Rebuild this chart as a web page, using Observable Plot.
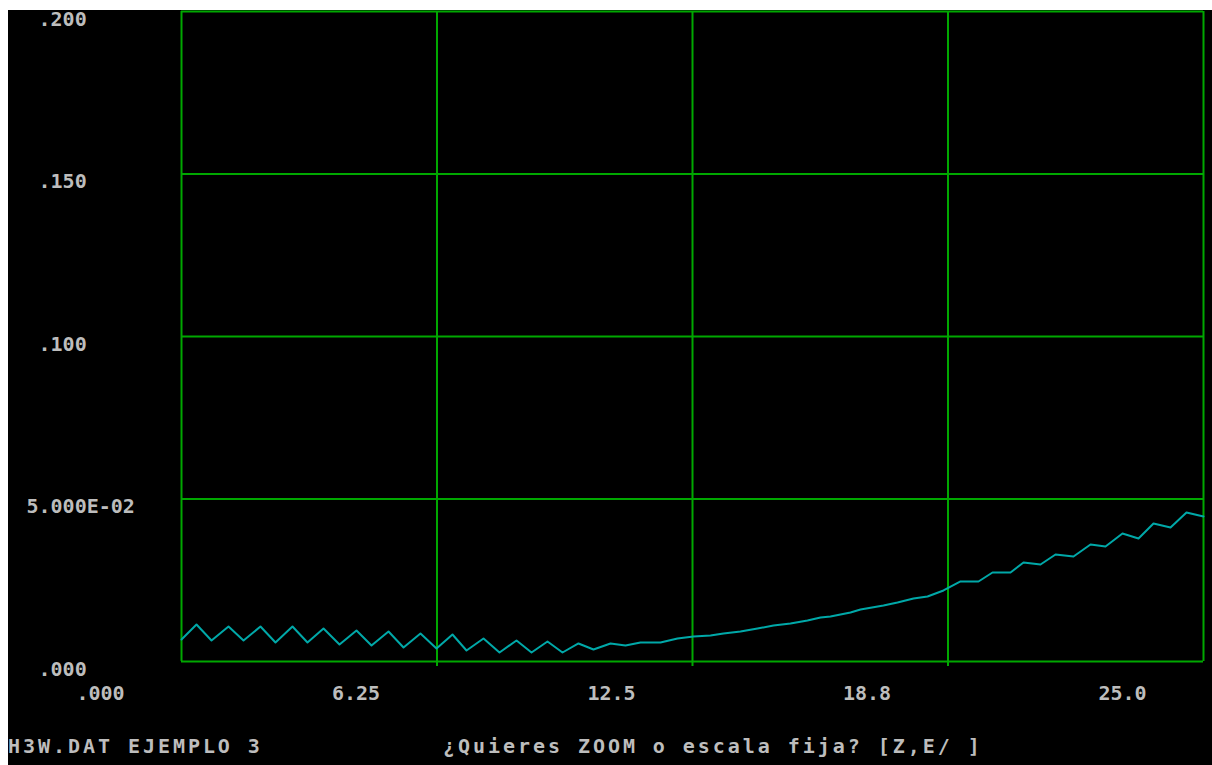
<!DOCTYPE html>
<html>
<head>
<meta charset="utf-8">
<script src="https://cdn.jsdelivr.net/npm/d3@7"></script>
<script src="https://cdn.jsdelivr.net/npm/@observablehq/plot@0.6"></script>
<style>
  html, body { margin: 0; padding: 0; background: #ffffff; overflow: hidden; }
  #screen { position: absolute; left: 8px; top: 10px; width: 1204px; height: 755px; background: #000; }
  #chart { position: absolute; left: 0; top: 0; }
  .dos { position: absolute; font-family: "DejaVu Sans Mono", monospace; font-weight: bold; font-size: 20px; letter-spacing: 2.95px; color: #bdbdbd; white-space: pre; line-height: 20px; }
</style>
</head>
<body>
<div id="screen">
  <div id="chart"></div>
  <div class="dos" style="left:0px; top:726px;">H3W.DAT EJEMPLO 3</div>
  <div class="dos" style="left:435px; top:726px;">¿Quieres ZOOM o escala fija? [Z,E/ ]</div>
</div>
<script>
const xTicks = [0, 6.25, 12.5, 18.75, 25];
const xTickLabels = [".000", "6.25", "12.5", "18.8", "25.0"];
const yTicks = [0, 0.05, 0.1, 0.15, 0.2];
const yTickLabels = ["\u00a0.000", "5.000E-02", "\u00a0.100", "\u00a0.150", "\u00a0.200"];

const xs = [0, 0.367, 0.734, 1.150, 1.517, 1.932, 2.299, 2.715, 3.082, 3.474, 3.865, 4.281, 4.648, 5.064, 5.431, 5.846, 6.238,
  6.629, 6.972, 7.388, 7.779, 8.195, 8.562, 8.953, 9.320, 9.711, 10.078, 10.494, 10.861, 11.228, 11.717, 12.133, 12.524,
  12.940, 13.258, 13.674, 14.090, 14.481, 14.897, 15.313, 15.631, 15.875, 16.365, 16.610, 17.172, 17.515, 17.906, 18.249, 18.640,
  19.056, 19.496, 19.839, 20.279, 20.597, 21.013, 21.380, 21.820, 22.236, 22.603, 23.018, 23.410, 23.777, 24.193, 24.584, 25.0];
const ys = [0.00677, 0.01138, 0.00646, 0.01077, 0.00646, 0.01077, 0.00585, 0.01077, 0.00585, 0.01015, 0.00523, 0.00954, 0.00492, 0.00923, 0.00431, 0.00862, 0.00400,
  0.00831, 0.00338, 0.00708, 0.00277, 0.00646, 0.00277, 0.00615, 0.00277, 0.00554, 0.00369, 0.00554, 0.00492, 0.00585, 0.00585, 0.00708, 0.00769,
  0.00800, 0.00862, 0.00923, 0.01015, 0.01108, 0.01169, 0.01262, 0.01354, 0.01385, 0.01508, 0.01600, 0.01723, 0.01815, 0.01938, 0.02000, 0.02185,
  0.02462, 0.02462, 0.02738, 0.02738, 0.03046, 0.02985, 0.03292, 0.03231, 0.03600, 0.03538, 0.03938, 0.03785, 0.04246, 0.04123, 0.04585, 0.04462];

const data = xs.map((x, i) => ({x, y: ys[i]}));
const xLab = xTicks.map((v, i) => ({v, t: xTickLabels[i]}));
const yLab = yTicks.map((v, i) => ({v, t: yTickLabels[i]}));

const green = "#00a800";
const fontFamily = "DejaVu Sans Mono, monospace";

const plot = Plot.plot({
  width: 1204,
  height: 710,
  marginLeft: 173,
  marginRight: 9,
  marginTop: 1,
  marginBottom: 59,
  style: {background: "#000", fontFamily, overflow: "visible"},
  x: {domain: [0, 25], axis: null},
  y: {domain: [0, 0.2], axis: null},
  marks: [
    Plot.ruleY(yTicks, {stroke: green, strokeWidth: 2}),
    Plot.ruleX(xTicks, {stroke: green, strokeWidth: 2}),
    Plot.ruleX(xTicks.slice(1, 4), {y1: 0, y2: 0, stroke: green, strokeWidth: 2, insetBottom: -5}),
    Plot.line(data, {x: "x", y: "y", stroke: "#00a8a8", strokeWidth: 2}),
    Plot.text(yLab, {y: "v", text: "t", frameAnchor: "left", textAnchor: "start", dx: -155, dy: 8,
      fill: "#bdbdbd", fontSize: 20, fontWeight: "bold", fontFamily, letterSpacing: 2.95}),
    Plot.text(xLab, {x: "v", text: "t", frameAnchor: "bottom", dx: -81, dy: 32, lineAnchor: "middle",
      fill: "#bdbdbd", fontSize: 20, fontWeight: "bold", fontFamily, letterSpacing: 2.95})
  ]
});
document.getElementById("chart").appendChild(plot);
</script>
</body>
</html>
